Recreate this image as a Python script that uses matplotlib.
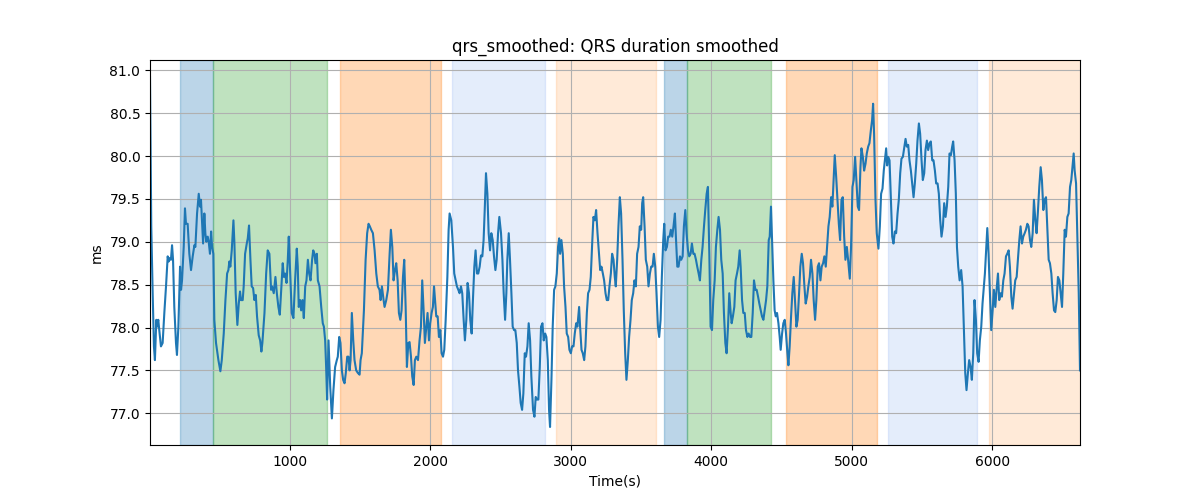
import matplotlib
matplotlib.use("Agg")
import matplotlib.pyplot as plt

# time stamps (s) and smoothed QRS duration (ms)
time_s = [
    5, 14, 24, 33, 40, 50, 55, 64, 71, 83, 95, 107, 119, 131, 138, 145, 154, 162, 169, 178,
    190, 197, 207, 219, 226, 233, 245, 254, 261, 273, 285, 297, 309, 321, 328, 340, 352, 361, 368, 375,
    383, 392, 399, 406, 416, 423, 432, 440, 447, 456, 463, 475, 492, 506, 516, 530, 542, 554, 563, 570,
    577, 587, 599, 606, 615, 627, 637, 646, 653, 665, 672, 682, 694, 701, 710, 720, 729, 739, 748, 758,
    767, 779, 789, 798, 805, 820, 832, 843,
    855, 867, 874, 886, 898, 908, 919, 929, 938, 950, 958, 967, 977, 986, 993, 1003, 1014, 1026, 1038, 1050,
    1057, 1064, 1074, 1081, 1091, 1100, 1110, 1119, 1129, 1138, 1148, 1159, 1167, 1176, 1183, 1193, 1200, 1212, 1224, 1235,
    1243, 1252, 1259, 1266, 1276, 1288, 1300, 1311, 1323, 1335, 1342, 1352, 1361, 1371, 1380, 1390, 1399, 1409, 1418, 1426,
    1433, 1442, 1452, 1461, 1473, 1485, 1497, 1504, 1513, 1528, 1540, 1551, 1561, 1570, 1580, 1592, 1604, 1616, 1627, 1639,
    1647, 1656, 1668,
    1675, 1687, 1699, 1711, 1720, 1730, 1739, 1749, 1758, 1768, 1777, 1787, 1796, 1806, 1815, 1825, 1834, 1844, 1853, 1863,
    1872, 1882, 1891, 1901, 1913, 1924, 1934, 1943, 1953, 1962, 1972, 1981, 1991, 2000, 2010, 2019, 2027, 2034, 2043, 2053,
    2062, 2072, 2081, 2091, 2100, 2110, 2122, 2131, 2138, 2150, 2162, 2171, 2181, 2190, 2200, 2209, 2219, 2228, 2238, 2247,
    2257, 2266, 2276, 2285, 2295, 2304, 2314, 2323, 2333, 2342, 2352, 2361, 2371, 2380, 2388, 2397, 2407, 2416, 2426, 2435,
    2445, 2454, 2464, 2473, 2483, 2492,
    2504, 2514, 2523, 2533, 2542, 2549, 2559, 2568, 2578, 2587, 2597, 2606, 2616, 2625, 2635, 2644, 2654, 2663, 2673, 2682,
    2692, 2701, 2711, 2720, 2732, 2742, 2751, 2761, 2770, 2780, 2789, 2799, 2808, 2818, 2827, 2837, 2846, 2853, 2863, 2872,
    2882, 2891, 2901, 2910, 2918, 2925, 2934, 2944, 2953, 2963, 2972, 2982, 2991, 3001, 3010, 3020, 3029, 3039, 3048, 3060,
    3067, 3077, 3086, 3096, 3105, 3115, 3124, 3134, 3143, 3153, 3162, 3172, 3181, 3191, 3200, 3210, 3219, 3229, 3238, 3248,
    3257, 3267, 3276, 3286, 3295, 3305, 3314,
    3321, 3331, 3340, 3350, 3359, 3369, 3378, 3388, 3397, 3407, 3416, 3426, 3435, 3445, 3454, 3464, 3473, 3483, 3492, 3502,
    3509, 3516, 3526, 3535, 3545, 3554, 3564, 3573, 3583, 3592, 3602, 3611, 3621, 3630, 3640, 3649, 3659, 3666, 3675, 3685,
    3694, 3704, 3713, 3723, 3732, 3742, 3749, 3759, 3768, 3778, 3787, 3797, 3806, 3816, 3825, 3835, 3844, 3854, 3863, 3873,
    3882, 3892, 3901, 3911, 3920, 3930, 3939, 3949, 3958, 3968, 3977, 3987, 3996, 4006, 4015, 4025, 4034, 4044, 4053, 4063,
    4072, 4082, 4091, 4101, 4110, 4120, 4129,
    4139, 4146, 4155, 4165, 4174, 4184, 4193, 4203, 4210, 4220, 4229, 4239, 4248, 4258, 4267, 4277, 4286, 4296, 4305, 4315,
    4324, 4334, 4343, 4353, 4362, 4372, 4381, 4391, 4400, 4410, 4417, 4426, 4433, 4443, 4452, 4460, 4469, 4479, 4488, 4495,
    4505, 4514, 4524, 4533, 4543, 4550, 4559, 4569, 4578, 4588, 4597, 4607, 4616, 4626, 4635, 4645, 4654, 4664, 4673, 4683,
    4692, 4702, 4711, 4721, 4730, 4740, 4749, 4759, 4768, 4778, 4787, 4797, 4806, 4816, 4825, 4835, 4844, 4854, 4863, 4873,
    4880, 4890, 4899, 4909, 4918, 4928, 4937, 4947,
    4956, 4966, 4975, 4987, 4996, 5006, 5015, 5025, 5034, 5044, 5053, 5063, 5070, 5080, 5089, 5099, 5108, 5118, 5127, 5137,
    5146, 5153, 5160, 5170, 5179, 5191, 5201, 5210, 5220, 5229, 5239, 5246, 5253, 5260, 5270, 5279, 5289, 5298, 5308, 5317,
    5327, 5336, 5346, 5355, 5365, 5374, 5384, 5393, 5403, 5412, 5422, 5431, 5441, 5450, 5460, 5469, 5479, 5488, 5498, 5507,
    5517, 5526, 5536, 5545, 5555, 5564, 5574, 5583, 5593, 5602, 5612, 5621, 5631, 5640, 5650, 5659, 5669, 5678, 5688, 5697,
    5707, 5716, 5723, 5733, 5742, 5750, 5759, 5769,
    5780, 5790, 5799, 5809, 5818, 5828, 5837, 5847, 5856, 5866, 5875, 5885, 5894, 5904, 5913, 5923, 5932, 5942, 5949, 5959,
    5966, 5975, 5985, 5994, 6004, 6013, 6023, 6032, 6042, 6051, 6061, 6070, 6080, 6089, 6099, 6108, 6118, 6127, 6137, 6146,
    6156, 6165, 6175, 6184, 6194, 6203, 6213, 6222, 6232, 6241, 6251, 6260, 6270, 6279, 6289, 6298, 6308, 6317, 6327, 6336,
    6346, 6355, 6365, 6374, 6384, 6393, 6403, 6412, 6422, 6431, 6441, 6450, 6460, 6469, 6479, 6488, 6498, 6507, 6517, 6526,
    6536, 6545, 6555, 6564, 6574, 6581, 6588, 6598, 6607, 6617, 6626,
]

qrs_ms = [
    80.92, 79.18, 78.40, 77.78, 77.62, 78.09, 78.01, 78.09, 77.97, 77.78, 77.82, 78.17, 78.48, 78.83, 78.77, 78.81, 78.79, 78.96, 78.79, 78.24,
    77.82, 77.68, 78.01, 78.71, 78.44, 78.55, 78.94, 79.39, 79.21, 79.21, 78.86, 78.67, 78.83, 78.96, 78.94, 79.33, 79.56, 79.41, 79.49, 79.25,
    78.98, 79.33, 79.10, 79.00, 79.06, 79.00, 78.86, 79.12, 78.94, 78.86, 78.09, 77.82, 77.62, 77.49, 77.62, 77.93, 78.32, 78.63, 78.67, 78.77,
    78.71, 78.90, 79.25, 78.98, 78.40, 78.03, 78.28, 78.42, 78.32, 78.32, 78.48, 78.86, 78.98, 79.04, 79.19, 78.79, 78.48, 78.46, 78.32, 78.38,
    78.13, 77.91, 77.85, 77.72, 77.82, 78.17, 78.63, 78.90,
    78.86, 78.44, 78.48, 78.40, 78.59, 78.40, 78.24, 78.15, 78.40, 78.75, 78.59, 78.63, 78.52, 78.79, 79.06, 78.63, 78.17, 78.11, 78.55, 78.92,
    78.71, 78.24, 78.32, 78.20, 78.32, 78.11, 78.48, 78.55, 78.79, 78.63, 78.55, 78.79, 78.90, 78.86, 78.75, 78.86, 78.55, 78.48, 78.24, 78.05,
    78.01, 77.85, 77.54, 77.16, 77.85, 77.31, 76.94, 77.27, 77.54, 77.62, 77.66, 77.89, 77.82, 77.50, 77.39, 77.35, 77.47, 77.66, 77.66, 77.50,
    77.62, 78.17, 77.85, 77.62, 77.50, 77.47, 77.45, 77.62, 77.70, 78.20, 78.79, 79.10, 79.21, 79.18, 79.14, 79.10, 78.90, 78.63, 78.48, 78.44,
    78.32, 78.48, 78.32,
    78.24, 78.32, 78.44, 78.86, 79.14, 78.94, 78.55, 78.67, 78.75, 78.55, 78.17, 78.09, 78.20, 78.59, 78.79, 78.24, 77.54, 77.82, 77.83, 77.66,
    77.43, 77.33, 77.62, 77.66, 77.62, 77.85, 78.01, 78.55, 78.20, 77.82, 78.01, 78.17, 77.85, 78.05, 78.17, 78.24, 78.48, 78.32, 78.13, 78.13,
    77.89, 77.97, 77.70, 77.66, 77.74, 78.09, 78.59, 79.14, 79.33, 79.25, 78.94, 78.63, 78.55, 78.48, 78.44, 78.40, 78.48, 78.40, 78.09, 77.85,
    78.09, 78.52, 78.40, 78.09, 77.93, 78.32, 78.71, 78.90, 78.63, 78.63, 78.71, 78.84, 78.83, 79.02, 79.37, 79.80, 79.56, 79.10, 78.90, 79.10,
    79.02, 78.83, 78.67, 78.79, 79.10, 79.29,
    79.10, 78.79, 78.40, 78.09, 78.40, 78.79, 79.10, 78.79, 78.40, 78.01, 77.97, 77.97, 77.82, 77.50, 77.31, 77.12, 77.04, 77.23, 77.70, 77.66,
    77.78, 78.05, 77.85, 77.43, 77.04, 76.96, 77.19, 77.16, 77.16, 77.54, 78.01, 78.05, 77.85, 77.93, 77.89, 77.62, 77.04, 76.84, 77.39, 78.01,
    78.44, 78.48, 78.63, 78.94, 79.04, 78.86, 79.02, 78.86, 78.48, 78.24, 77.93, 77.89, 77.74, 77.70, 77.78, 77.78, 77.93, 78.05, 78.01, 78.24,
    78.01, 77.74, 77.70, 77.62, 77.78, 78.17, 78.40, 78.44, 78.59, 78.98, 79.29, 79.25, 79.37, 79.10, 78.90, 78.67, 78.71, 78.63, 78.55, 78.40,
    78.32, 78.32, 78.48, 78.63, 78.86, 78.79, 78.59,
    78.48, 78.79, 79.18, 79.52, 79.33, 78.79, 78.20, 77.70, 77.39, 77.62, 77.89, 78.09, 78.32, 78.40, 78.55, 78.48, 78.86, 78.94, 79.18, 79.14,
    79.45, 79.52, 79.18, 78.79, 78.71, 78.48, 78.63, 78.71, 78.71, 78.86, 78.71, 78.40, 78.01, 77.89, 78.09, 78.59, 79.02, 79.21, 78.90, 78.94,
    79.06, 79.06, 79.14, 79.06, 79.18, 79.33, 79.06, 78.71, 78.71, 78.83, 78.79, 78.83, 79.18, 79.37, 79.10, 78.90, 78.83, 78.86, 78.98, 78.86,
    78.86, 78.79, 78.71, 78.63, 78.55, 78.79, 78.94, 79.18, 79.37, 79.56, 79.64, 78.86, 78.01, 77.97, 78.32, 78.55, 78.94, 79.14, 79.29, 79.14,
    78.79, 78.63, 78.17, 77.82, 77.70, 78.01, 78.40,
    78.17, 78.05, 78.13, 78.24, 78.55, 78.63, 78.71, 78.90, 78.71, 78.32, 78.17, 78.17, 77.97, 77.89, 77.93, 77.89, 77.89, 78.17, 78.55, 78.44,
    78.44, 78.36, 78.28, 78.20, 78.13, 78.09, 78.20, 78.32, 78.48, 79.02, 79.06, 79.41, 79.06, 78.55, 78.20, 78.13, 78.17, 78.05, 77.89, 77.74,
    77.93, 78.05, 78.09, 77.93, 77.70, 77.56, 77.78, 78.13, 78.40, 78.59, 78.32, 78.01, 78.09, 78.40, 78.71, 78.86, 78.75, 78.48, 78.28, 78.36,
    78.48, 78.59, 78.79, 78.63, 78.32, 78.09, 78.32, 78.71, 78.75, 78.55, 78.71, 78.75, 78.83, 78.71, 78.94, 79.18, 79.29, 79.52, 79.41, 79.76,
    80.01, 79.76, 79.49, 79.21, 79.02, 79.49, 79.52, 79.06,
    78.79, 78.94, 78.79, 78.57, 78.94, 79.64, 79.72, 79.99, 79.72, 79.41, 79.37, 79.87, 80.09, 79.99, 79.83, 79.91, 80.03, 80.11, 80.15, 80.30,
    80.42, 80.61, 80.26, 79.49, 79.10, 78.92, 79.18, 79.56, 79.62, 79.83, 79.99, 80.09, 79.89, 79.99, 79.95, 79.52, 79.06, 78.98, 79.12, 79.10,
    79.33, 79.49, 79.80, 79.97, 79.99, 80.09, 80.20, 80.11, 80.13, 79.95, 79.83, 79.68, 79.52, 79.68, 79.91, 80.18, 80.38, 80.26, 79.95, 79.72,
    79.80, 80.07, 80.18, 80.07, 80.15, 80.17, 79.95, 79.95, 79.83, 79.68, 79.68, 79.56, 79.25, 79.06, 79.18, 79.45, 79.29, 79.41, 79.64, 80.03,
    80.01, 80.11, 80.17, 79.95, 79.56, 78.94, 78.71, 78.55,
    78.67, 78.48, 78.01, 77.47, 77.27, 77.47, 77.62, 77.54, 77.39, 77.70, 78.32, 78.09, 77.70, 77.60, 77.85, 78.01, 78.28, 78.48, 78.63, 78.94,
    79.16, 78.86, 78.40, 77.97, 78.20, 78.44, 78.24, 78.44, 78.63, 78.32, 78.40, 78.36, 78.55, 78.63, 78.83, 78.86, 78.90, 78.71, 78.36, 78.22,
    78.40, 78.55, 78.59, 78.79, 79.02, 79.18, 78.98, 79.06, 79.10, 79.14, 79.21, 79.18, 79.02, 78.94, 79.10, 79.49, 79.25, 79.10, 79.37, 79.64,
    79.87, 79.72, 79.37, 79.49, 79.52, 79.18, 78.79, 78.75, 78.63, 78.40, 78.20, 78.18, 78.32, 78.59, 78.55, 78.40, 78.24, 78.63, 79.14, 79.06,
    79.29, 79.33, 79.64, 79.72, 79.91, 80.03, 79.83, 79.68, 79.06, 78.40, 77.50,
]

# shaded phases (start, end in seconds) and which shade each one uses
phase_start = [221, 456, 1357, 2153, 2894, 3663, 3825, 4533, 5262, 5975]
phase_end = [456, 1266, 2079, 2820, 3604, 3825, 4424, 5179, 5892, 6640]
phase_kind = ["A", "B", "C", "D", "E", "A", "B", "C", "D", "E"]

shade = {
    "A": ("tab:blue", 0.3),
    "B": ("tab:green", 0.3),
    "C": ("tab:orange", 0.3),
    "D": ("cornflowerblue", 0.17),
    "E": ("tab:orange", 0.16),
}

fig, ax = plt.subplots(figsize=(12, 5))

for s, e, k in zip(phase_start, phase_end, phase_kind):
    col, a = shade[k]
    ax.axvspan(s, e, color=col, alpha=a)

ax.plot(time_s, qrs_ms, color="tab:blue", linewidth=1.5)

ax.set_xlim(min(time_s), max(time_s))
ax.set_ylim(76.63, 81.12)
ax.grid(True)
ax.set_title("qrs_smoothed: QRS duration smoothed")
ax.set_xlabel("Time(s)")
ax.set_ylabel("ms")

plt.savefig("out.png", dpi=100)
